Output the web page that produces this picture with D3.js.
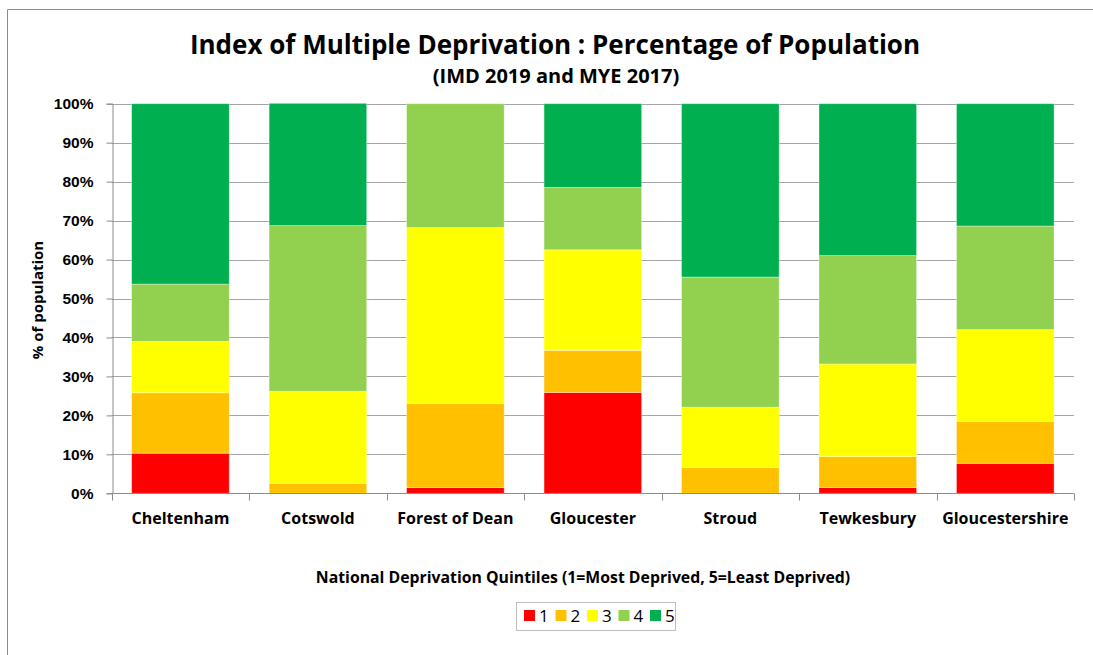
<!DOCTYPE html>
<html>
<head>
<meta charset="utf-8">
<script src="https://cdn.jsdelivr.net/npm/d3@7"></script>
<style>
  body { margin: 0; background: #fff; }
  svg { display: block; font-family: "Open Sans", "Noto Sans", sans-serif; }
</style>
</head>
<body>
<svg id="chart" width="1093" height="655"></svg>
<script>
const categories = ["Cheltenham", "Cotswold", "Forest of Dean", "Gloucester", "Stroud", "Tewkesbury", "Gloucestershire"];
const quintiles = ["1", "2", "3", "4", "5"];
const q1 = [10.3, 0.0, 1.5, 25.9, 0.0, 1.5, 7.7];
const q2 = [15.5, 2.6, 21.6, 10.8, 6.6, 7.9, 10.8];
const q3 = [13.2, 23.6, 45.1, 25.8, 15.5, 23.8, 23.5];
const q4 = [14.7, 42.5, 31.8, 16.0, 33.4, 27.8, 26.6];
const q5 = [46.3, 31.4, 0.0, 21.5, 44.5, 39.0, 31.4];
const yTicks = [0, 10, 20, 30, 40, 50, 60, 70, 80, 90, 100];
const colors = ["#FF0000", "#FFC000", "#FFFF00", "#92D050", "#00B050"];

const series = [q1, q2, q3, q4, q5];
const rows = categories.map((c, i) => {
  const r = { category: c };
  quintiles.forEach((q, k) => r[q] = series[k][i]);
  return r;
});
const stacked = d3.stack().keys(quintiles)(rows);

const svg = d3.select("#chart");
const margin = { left: 111.7, right: 1074, top: 103.7, bottom: 493.3 };

// outer frame (top and left edges visible)
svg.append("line").attr("x1", 7.5).attr("x2", 1093).attr("y1", 9.5).attr("y2", 9.5).attr("stroke", "#8c8c8c").attr("stroke-width", 1);
svg.append("line").attr("x1", 7.5).attr("x2", 7.5).attr("y1", 9.5).attr("y2", 655).attr("stroke", "#8c8c8c").attr("stroke-width", 1);

const x = d3.scaleBand().domain(categories).range([margin.left, margin.right]).paddingInner(0.29).paddingOuter(0.145);
const y = d3.scaleLinear().domain([0, 100]).range([margin.bottom, margin.top]);

// gridlines
svg.append("g").selectAll("line").data(yTicks.filter(t => t > 0)).join("line")
  .attr("x1", margin.left).attr("x2", margin.right)
  .attr("y1", d => Math.round(y(d)) + 0.5).attr("y2", d => Math.round(y(d)) + 0.5)
  .attr("stroke", "#a6a6a6").attr("stroke-width", 1);

// bars
svg.append("g").selectAll("g").data(stacked).join("g")
  .attr("fill", (d, i) => colors[i])
  .selectAll("rect").data(d => d.filter(s => s[1] - s[0] > 0)).join("rect")
  .attr("x", d => x(d.data.category))
  .attr("width", x.bandwidth())
  .attr("y", d => y(d[1]))
  .attr("height", d => y(d[0]) - y(d[1]))
  .attr("stroke", "rgba(255,255,255,0.45)").attr("stroke-width", 0.8);

// y axis
const yAxis = d3.axisLeft(y).tickValues(yTicks).tickFormat(d => d + "%").tickSize(6).tickPadding(13);
const gy = svg.append("g").attr("transform", `translate(${Math.round(margin.left) + 0.5},0)`).call(yAxis);
gy.select(".domain").attr("stroke", "#8c8c8c");
gy.selectAll(".tick line").attr("stroke", "#8c8c8c");
gy.selectAll(".tick text").attr("fill", "#000").style("font-size", "15.5px").style("font-weight", "bold");

// x axis with boundary ticks
const gx = svg.append("g").attr("transform", `translate(0,${Math.round(margin.bottom) + 0.5})`);
gx.append("line").attr("x1", margin.left).attr("x2", margin.right).attr("stroke", "#8c8c8c");
const bounds = categories.map(c => x(c) - x.step() * 0.145).concat([margin.right]);
gx.selectAll("line.b").data(bounds).join("line").attr("class", "b")
  .attr("x1", d => Math.round(d) + 0.5).attr("x2", d => Math.round(d) + 0.5)
  .attr("y1", 0).attr("y2", 7).attr("stroke", "#8c8c8c");
gx.selectAll("text").data(categories).join("text")
  .attr("x", d => x(d) + x.bandwidth() / 2).attr("y", 30)
  .attr("text-anchor", "middle").style("font-size", "16px").style("font-weight", "bold").text(d => d);

// titles
svg.append("text").attr("x", 555).attr("y", 54).attr("text-anchor", "middle")
  .style("font-size", "26px").style("font-weight", "bold").text("Index of Multiple Deprivation : Percentage of Population");
svg.append("text").attr("x", 556).attr("y", 83).attr("text-anchor", "middle")
  .style("font-size", "20px").style("font-weight", "bold").text("(IMD 2019 and MYE 2017)");
svg.append("text").attr("transform", "translate(43,300) rotate(-90)").attr("text-anchor", "middle")
  .style("font-size", "15px").style("font-weight", "bold").text("% of population");
svg.append("text").attr("x", 583).attr("y", 583).attr("text-anchor", "middle")
  .style("font-size", "15.8px").style("font-weight", "bold").text("National Deprivation Quintiles (1=Most Deprived, 5=Least Deprived)");

// legend
const lg = svg.append("g");
lg.append("rect").attr("x", 516.5).attr("y", 602.5).attr("width", 159).attr("height", 28)
  .attr("fill", "#fff").attr("stroke", "#bfbfbf");
const items = lg.selectAll("g").data(quintiles).join("g")
  .attr("transform", (d, i) => `translate(${524 + i * 31.5},610)`);
items.append("rect").attr("width", 11).attr("height", 11).attr("fill", (d, i) => colors[i]);
items.append("text").attr("x", 15).attr("y", 11.5).style("font-size", "17px").text(d => d);
</script>
</body>
</html>
